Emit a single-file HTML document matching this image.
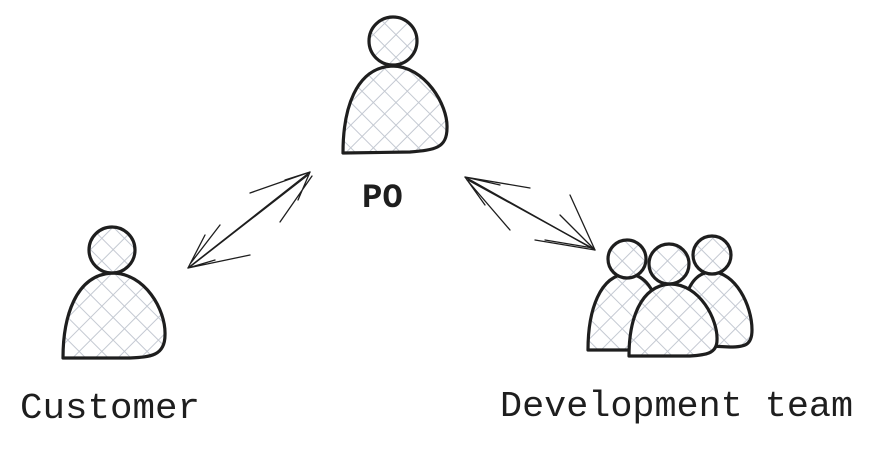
<!DOCTYPE html>
<html><head><style>
html,body{margin:0;padding:0;background:#fff;}
svg{display:block}
text{font-family:"Liberation Mono",monospace;fill:#1e1e1e;}
</style></head><body>
<svg width="873" height="450" viewBox="0 0 873 450" xmlns="http://www.w3.org/2000/svg">
<defs>
<pattern id="h" width="16" height="16" patternUnits="userSpaceOnUse" patternTransform="rotate(45)">
<rect width="16" height="16" fill="#fff"/>
<path d="M0 0V16M0 0H16" stroke="#c4c9d2" stroke-width="2"/>
</pattern>
</defs>
<g stroke="#1e1e1e" stroke-width="3.2" fill="url(#h)" stroke-linejoin="round">
<path d="M343 153 C343 110 355 68 392 66 C425 66 448 105 447 128 C447 148 435 150 410 152 Z"/>
<circle cx="393" cy="41" r="24"/>
<path d="M63 358 C63 318 75 275 112 273 C145 273 166 310 165 335 C165 356 150 357 130 358 Z"/>
<path d="M588 350 C588 310 600 275 627 274 C650 274 660 300 660 330 L655 350 Z"/>
<path d="M688 345 L685 300 C690 280 700 272 712 272 C735 272 752 305 752 330 C752 345 745 347 730 347 Z"/>
<circle cx="627" cy="259" r="19"/>
<circle cx="712" cy="255" r="19"/>
<path d="M629 356 C629 320 640 286 670 284 C700 284 718 320 717 340 C717 354 705 355 690 356 Z"/>
<circle cx="669" cy="264" r="20"/>
<circle cx="112" cy="250" r="23"/>
</g>
<g stroke="#1e1e1e" stroke-width="1.3" fill="none" stroke-linecap="round">
<path d="M188 268 L310 172"/><path d="M191 266 L308 175"/>
<path d="M310 172 L285 180 M310 172 L250 193 M310 172 L298 200 M312 176 L280 222"/>
<path d="M188 268 L215 260 M188 268 L250 255 M188 268 L205 235 M190 264 L220 225"/>
<path d="M465 177 L595 250"/><path d="M468 180 L592 248"/>
<path d="M465 177 L530 188 M465 177 L500 185 M465 177 L485 205 M467 180 L510 230"/>
<path d="M595 250 L570 195 M595 250 L560 215 M595 250 L535 240 M593 248 L545 240"/>
</g>
<text x="362" y="207" font-size="34" font-weight="bold">PO</text>
<text x="20" y="418" font-size="36" textLength="180" lengthAdjust="spacingAndGlyphs">Customer</text>
<text x="500" y="416" font-size="36" textLength="353" lengthAdjust="spacingAndGlyphs">Development team</text>
</svg>
</body></html>
